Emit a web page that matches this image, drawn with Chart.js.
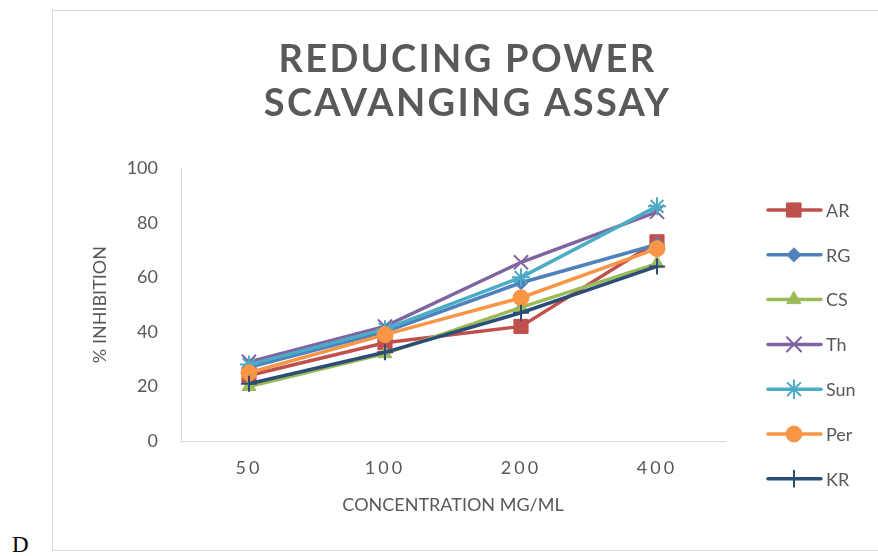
<!DOCTYPE html>
<html>
<head>
<meta charset="utf-8">
<script src="https://cdn.jsdelivr.net/npm/chart.js@4/dist/chart.umd.min.js"></script>
<style>
  html, body { margin: 0; padding: 0; background: #fff; overflow: hidden; }
  #wrap { position: relative; width: 878px; height: 556px; }
  #frame { position: absolute; left: 52px; top: 10px; width: 900px; height: 539px; border: 1px solid #d9d9d9; }
  #tag { position: absolute; left: 12px; top: 532px; font: 23px "Liberation Serif", "Times New Roman", serif; color: #000; }
  canvas { position: absolute; left: 0; top: 0; }
</style>
</head>
<body>
<div id="wrap">
  <div id="frame"></div>
  <div id="tag">D</div>
  <canvas id="chart" width="878" height="556"></canvas>
</div>
<script>
// Concentrations (mg/ml) on the x axis
const concentrations = ['50', '100', '200', '400'];

// % inhibition per extract
const arValues  = [24, 36, 42, 73];
const rgValues  = [27, 40, 58, 72];
const csValues  = [20, 32, 49, 65];
const thValues  = [29, 42, 65.5, 84];
const sunValues = [28, 41, 60, 86];
const perValues = [25, 39, 52.5, 70.5];
const krValues  = [21, 32.5, 47, 64];

const yTicks = [0, 20, 40, 60, 80, 100];

const textColor = '#595959';
const fontFamily = 'Lato, "Open Sans", sans-serif';

function serie(label, data, color, style, radius, borderWidth) {
    return {
        label: label,
        data: data,
        borderColor: color,
        backgroundColor: color,
        borderWidth: 3.5,
        pointStyle: style,
        pointRadius: radius,
        pointHoverRadius: radius,
        pointBorderWidth: borderWidth,
        pointBackgroundColor: color,
        pointBorderColor: color,
        tension: 0,
        fill: false
    };
}

const datasets = [
    serie('AR',  arValues,  '#C0504D', 'rect',     10, 1),
    serie('RG',  rgValues,  '#4F81BD', 'rectRot',   7, 1),
    serie('CS',  csValues,  '#9BBB59', 'triangle',  8, 1),
    serie('Th',  thValues,  '#8064A2', 'crossRot', 10, 2),
    serie('Sun', sunValues, '#4BACC6', 'star',      9, 2),
    serie('Per', perValues, '#F79646', 'circle',    8, 1),
    serie('KR',  krValues,  '#2C4D75', 'cross',     8, 2)
];
// Excel stacks later series on top
datasets.forEach((ds, i) => { ds.order = datasets.length - i; });

// letter spacing for the title and the x tick labels,
// title centred on the whole frame rather than the plot
const spacing = {
    id: 'spacing',
    afterLayout(chart) {
        const sx = chart.scales.x;
        if (sx && !sx._spaced) {
            const orig = sx.drawLabels;
            sx.drawLabels = function(area) {
                this.ctx.save();
                this.ctx.letterSpacing = '3px';
                orig.call(this, area);
                this.ctx.restore();
            };
            sx._spaced = true;
        }
        const tb = chart.titleBlock;
        if (tb && !tb._spaced) {
            const o = tb.draw;
            tb.draw = function() {
                this.ctx.save();
                this.ctx.translate(105, 0);
                this.ctx.letterSpacing = '2.3px';
                o.call(this);
                this.ctx.restore();
            };
            tb._spaced = true;
        }
    }
};

// legend on the right: line + marker + label
const sideLegend = {
    id: 'sideLegend',
    afterDraw(chart) {
        const ctx = chart.ctx;
        chart.data.datasets.forEach((ds, i) => {
            const y = 210 + i * 44.8;
            ctx.save();
            ctx.strokeStyle = ds.borderColor;
            ctx.fillStyle = ds.borderColor;
            ctx.lineWidth = ds.borderWidth;
            ctx.lineCap = 'round';
            ctx.beginPath();
            ctx.moveTo(768, y);
            ctx.lineTo(821, y);
            ctx.stroke();
            ctx.lineWidth = ds.pointBorderWidth;
            Chart.helpers.drawPoint(ctx, {
                pointStyle: ds.pointStyle,
                radius: ds.pointRadius,
                borderWidth: ds.pointBorderWidth,
                rotation: 0
            }, 794, y);
            ctx.fillStyle = textColor;
            ctx.font = '18px ' + fontFamily;
            ctx.textBaseline = 'middle';
            ctx.textAlign = 'left';
            ctx.fillText(ds.label, 826, y + 1);
            ctx.restore();
        });
    }
};

new Chart(document.getElementById('chart'), {
    type: 'line',
    data: {
        labels: concentrations,
        datasets: datasets
    },
    options: {
        responsive: false,
        animation: false,
        layout: {
            padding: { top: 0, right: 153, bottom: 0, left: 0 }
        },
        plugins: {
            legend: { display: false },
            tooltip: { enabled: false },
            title: {
                display: true,
                text: ['REDUCING POWER', 'SCAVANGING ASSAY'],
                color: textColor,
                font: { family: fontFamily, size: 38, weight: 'bold', lineHeight: 1.16 },
                padding: { top: 38, bottom: 42 }
            }
        },
        scales: {
            x: {
                offset: true,
                grid: { display: false, drawTicks: false },
                border: { display: true, color: '#d9d9d9', width: 1 },
                ticks: {
                    color: textColor,
                    font: { family: fontFamily, size: 18 },
                    padding: 16,
                    maxRotation: 0
                },
                title: {
                    display: true,
                    text: 'CONCENTRATION MG/ML',
                    color: textColor,
                    font: { family: fontFamily, size: 18 },
                    padding: { top: 0, bottom: 40 }
                },
                afterFit(scale) { scale.height = 115; }
            },
            y: {
                min: 0,
                max: 100,
                afterBuildTicks(scale) { scale.ticks = yTicks.map(v => ({ value: v })); },
                grid: { display: false, drawTicks: false },
                border: { display: true, color: '#d9d9d9', width: 1 },
                ticks: {
                    color: textColor,
                    font: { family: fontFamily, size: 18 },
                    padding: 23
                },
                title: {
                    display: true,
                    text: '% INHIBITION',
                    color: textColor,
                    font: { family: fontFamily, size: 18 },
                    padding: { top: 89, bottom: 0 }
                },
                afterFit(scale) { scale.width = 181; }
            }
        }
    },
    plugins: [spacing, sideLegend]
});
</script>
</body>
</html>
